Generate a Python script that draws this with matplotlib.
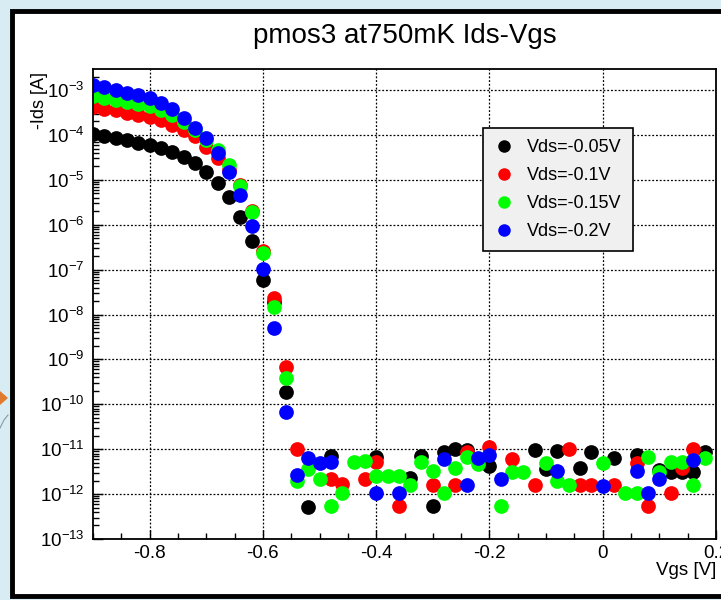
import numpy as np
import matplotlib
matplotlib.use('Agg')
import matplotlib.pyplot as plt
from matplotlib.ticker import MultipleLocator, LogLocator, FuncFormatter, LogFormatterMathtext, NullFormatter
from matplotlib.patches import Rectangle, Polygon
from matplotlib.lines import Line2D

plt.rcParams['font.family'] = ['Liberation Sans', 'DejaVu Sans']
plt.rcParams['mathtext.fontset'] = 'custom'
plt.rcParams['mathtext.rm'] = 'Liberation Sans'
plt.rcParams['mathtext.it'] = 'Liberation Sans:italic'
plt.rcParams['mathtext.bf'] = 'Liberation Sans:bold'
plt.rcParams['axes.unicode_minus'] = False

nan = np.nan

# Gate voltage sweep [V]
vgs = [-0.90, -0.88, -0.86, -0.84, -0.82, -0.80, -0.78, -0.76, -0.74, -0.72,
       -0.70, -0.68, -0.66, -0.64, -0.62, -0.60, -0.58, -0.56, -0.54, -0.52,
       -0.50, -0.48, -0.46, -0.44, -0.42, -0.40, -0.38, -0.36, -0.34, -0.32,
       -0.30, -0.28, -0.26, -0.24, -0.22, -0.20, -0.18, -0.16, -0.14, -0.12,
       -0.10, -0.08, -0.06, -0.04, -0.02, 0.00, 0.02, 0.04, 0.06, 0.08,
       0.10, 0.12, 0.14, 0.16, 0.18]

# -Ids [A] for each drain voltage (nan = not plotted / non-positive)
ids_005 = [1.05e-4, 9.5e-5, 8.5e-5, 7.8e-5, 6.6e-5, 6.0e-5, 5.1e-5, 4.2e-5, 3.2e-5, 2.4e-5,
           1.5e-5, 8.5e-6, 4.2e-6, 1.5e-6, 4.4e-7, 6.0e-8, 1.9e-8, 1.9e-10, nan, 5.2e-13,
           nan, 7.0e-12, nan, nan, nan, 6.6e-12, nan, nan, 2.3e-12, 7.0e-12,
           5.4e-13, 8.5e-12, 1.0e-11, 9.5e-12, nan, 4.2e-12, nan, nan, nan, 9.5e-12,
           3.6e-12, 9.0e-12, nan, 3.8e-12, 8.5e-12, nan, 6.3e-12, nan, 7.4e-12, nan,
           3.4e-12, 3.1e-12, 3.1e-12, 3.1e-12, 8.5e-12]

ids_010 = [4.2e-4, 3.8e-4, 3.6e-4, 3.1e-4, 2.8e-4, 2.5e-4, 2.2e-4, 1.7e-4, 1.3e-4, 9.5e-5,
           5.4e-5, 3.1e-5, 1.7e-5, 7.8e-6, 2.0e-6, 2.6e-7, 2.3e-8, 6.9e-10, 1.0e-11, nan,
           nan, 2.2e-12, 1.7e-12, nan, 2.2e-12, 5.1e-12, nan, 5.4e-13, nan, nan,
           1.6e-12, nan, 1.6e-12, 8.5e-12, nan, 1.1e-11, nan, 6.0e-12, nan, 1.6e-12,
           nan, nan, 1.0e-11, 1.6e-12, 1.6e-12, nan, 1.6e-12, nan, 4.9e-12, 5.4e-13,
           nan, 1.05e-12, 3.8e-12, 1.0e-11, nan]

ids_015 = [7.4e-4, 6.6e-4, 6.0e-4, 5.4e-4, 4.9e-4, 4.4e-4, 3.6e-4, 2.8e-4, 1.9e-4, 1.3e-4,
           7.8e-5, 4.6e-5, 2.2e-5, 7.4e-6, 1.9e-6, 2.3e-7, 1.5e-8, 3.8e-10, 2.0e-12, 3.6e-12,
           2.2e-12, 5.4e-13, 1.05e-12, 5.1e-12, 5.4e-12, 2.5e-12, 2.5e-12, 2.5e-12, 1.6e-12, 5.1e-12,
           3.3e-12, 1.05e-12, 3.8e-12, 6.6e-12, 4.6e-12, nan, 5.4e-13, 3.1e-12, 3.1e-12, nan,
           4.9e-12, 2.0e-12, 1.6e-12, nan, nan, 4.9e-12, nan, 1.05e-12, 1.05e-12, 6.6e-12,
           3.1e-12, 5.1e-12, 5.1e-12, 1.6e-12, 6.3e-12]

ids_020 = [1.3e-3, 1.17e-3, 1.0e-3, 8.6e-4, 7.7e-4, 6.6e-4, 5.1e-4, 3.8e-4, 2.4e-4, 1.4e-4,
           8.6e-5, 4.0e-5, 1.5e-5, 4.6e-6, 9.5e-7, 1.05e-7, 4.9e-9, 6.9e-11, 2.7e-12, 6.3e-12,
           4.9e-12, 5.1e-12, nan, nan, nan, 1.05e-12, nan, 1.05e-12, nan, nan,
           nan, 6.0e-12, nan, 1.6e-12, 6.3e-12, 7.4e-12, 2.2e-12, nan, nan, nan,
           nan, 3.3e-12, nan, nan, nan, 1.5e-12, nan, nan, 3.3e-12, 1.05e-12,
           2.2e-12, nan, nan, 5.7e-12, nan]

series_labels = ['Vds=-0.05V', 'Vds=-0.1V', 'Vds=-0.15V', 'Vds=-0.2V']
series_colors = ['#000000', '#ff0000', '#00ff00', '#0000ff']

W, H = 721, 600
fig = plt.figure(figsize=(W / 100, H / 100), dpi=100)
fig.patch.set_facecolor('#d8ecf4')

# white canvas with black frame (screenshot border)
panel = Rectangle((11.5 / W, 4 / H), (780 - 11.5) / W, (589 - 4) / H,
                  transform=fig.transFigure, facecolor='white',
                  edgecolor='black', linewidth=3.5, zorder=-5)
fig.add_artist(panel)
arrow = Polygon([(0, 1 - 391 / H), (8 / W, 1 - 398 / H), (0, 1 - 405 / H)],
                closed=True, transform=fig.transFigure, facecolor='#e07a2e',
                edgecolor='none', zorder=-4)
fig.add_artist(arrow)
fig.add_artist(Line2D([0, 4 / W, 8 / W], [1 - 428 / H, 1 - 420 / H, 1 - 415 / H],
                      transform=fig.transFigure, color='#8a9aa6', lw=0.8, zorder=-4))

ax = fig.add_axes([93 / W, 1 - 539 / H, (716 - 93) / W, (539 - 69) / H])
ax.set_yscale('log')

for vals, c, lab in zip([ids_005, ids_010, ids_015, ids_020], series_colors, series_labels):
    ax.plot(vgs, vals, ls='none', marker='o', ms=10.6, color=c, mec=c, mew=0,
            label=lab, clip_on=True)

ax.set_xlim(-0.9, 0.2)
ax.set_ylim(1e-13, 10 ** -2.53)

ax.xaxis.set_major_locator(MultipleLocator(0.2))
ax.xaxis.set_minor_locator(MultipleLocator(0.05))


def xfmt(v, p):
    v = round(v, 2)
    if v == 0:
        return '0'
    return f'{v:g}'


ax.xaxis.set_major_formatter(FuncFormatter(xfmt))
ax.yaxis.set_major_locator(LogLocator(base=10, numticks=30))
ax.yaxis.set_minor_locator(LogLocator(base=10, subs=np.arange(2, 10), numticks=30))
ax.yaxis.set_major_formatter(LogFormatterMathtext())
ax.yaxis.set_minor_formatter(NullFormatter())

ax.tick_params(which='both', direction='in', top=False, right=False, width=1.0)
ax.tick_params(which='major', length=6.5, labelsize=13.5)
ax.tick_params(which='minor', length=4.5)
ax.tick_params(axis='x', which='major', pad=4)
ax.tick_params(axis='y', which='major', length=7, pad=6)
ax.grid(True, which='major', ls=(0, (1.5, 1.5)), color='black', lw=0.9)
for s in ax.spines.values():
    s.set_linewidth(1.3)

fig.text(405 / W, 1 - 43 / H, 'pmos3 at750mK Ids-Vgs', ha='center', va='baseline', fontsize=20)
fig.text(40 / W, 1 - 72 / H, '-Ids [A]', rotation=90, ha='center', va='top', fontsize=13)
fig.text(716 / W, 1 - 562 / H, 'Vgs [V]', ha='right', va='top', fontsize=13.5)

leg = ax.legend(loc='upper left', bbox_to_anchor=(483 / W, 1 - 128 / H),
                bbox_transform=fig.transFigure, frameon=True, fancybox=False,
                edgecolor='black', facecolor='#f0f0f0', framealpha=1,
                fontsize=13, handlelength=1.1, handletextpad=0.75,
                borderpad=0.6, labelspacing=0.62, borderaxespad=0,
                numpoints=1, markerscale=0.85)
leg.get_frame().set_linewidth(1.2)

fig.savefig('out.png', dpi=100, facecolor=fig.get_facecolor())
